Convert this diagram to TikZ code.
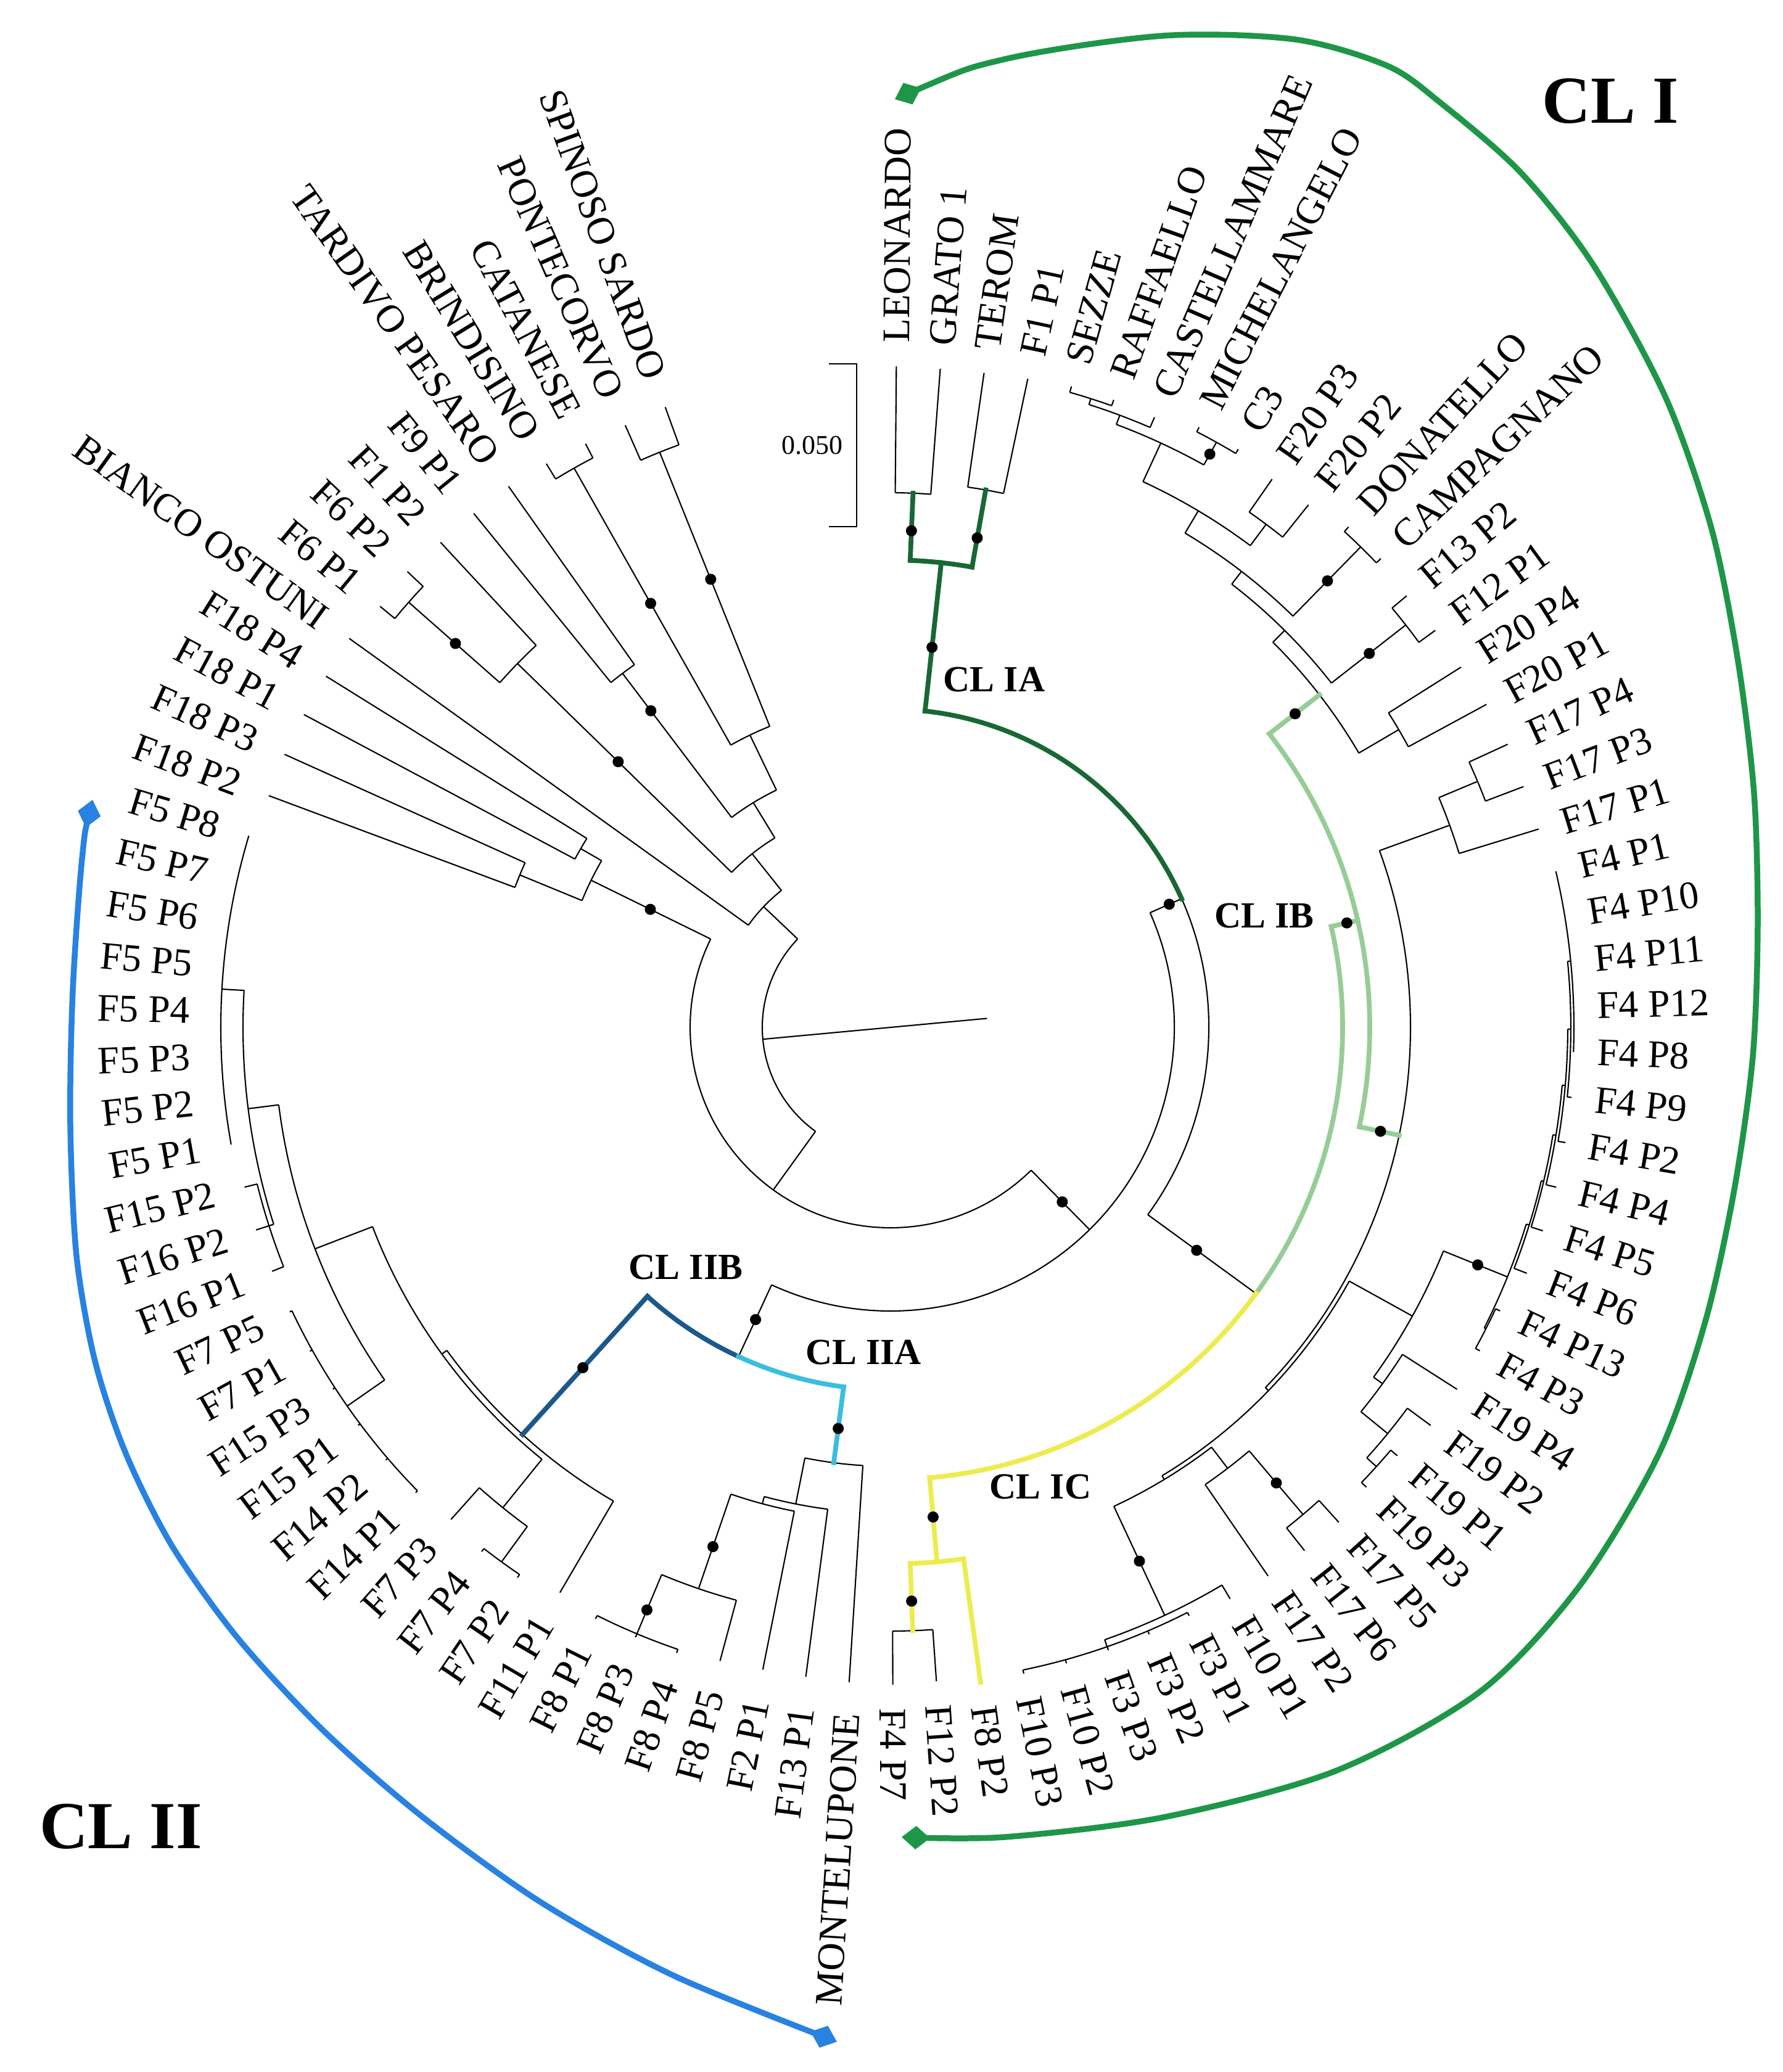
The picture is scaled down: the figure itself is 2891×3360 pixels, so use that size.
\documentclass[tikz,border=0pt]{standalone}
\usepackage{fontspec}
\setmainfont{Liberation Serif}
\usetikzlibrary{arrows.meta}

\definecolor{clagreen}{RGB}{24,104,52}
\definecolor{clbgreen}{RGB}{150,205,150}
\definecolor{clcyellow}{RGB}{236,236,80}
\definecolor{cliiblue}{RGB}{28,88,138}
\definecolor{cliicyan}{RGB}{58,190,222}
\definecolor{clIgreen}{RGB}{30,150,72}
\definecolor{clIIblue}{RGB}{40,130,225}

\newcommand{\lfa}[1]{89.5-3.815*(#1-1)}
\newcommand{\branch}[4][]{\draw[tree,#1] ({\lfa{#2}}:#3) -- ({\lfa{#2}}:#4);}
\newcommand{\fork}[4][]{\draw[tree,#1] ({\lfa{#3}}:#2) arc[start angle={\lfa{#3}}, end angle={\lfa{#4}}, radius=#2];}

\begin{document}
\begin{tikzpicture}[x=0.1mm, y=0.1mm,
	tree/.style={line width=0.6pt},
	hilite/.style={line width=2.2pt, line cap=rect},
	leaf/.style={font=\fontsize{18}{20}\selectfont, inner sep=0pt},
	cl/.style={font=\bfseries\fontsize{17}{19}\selectfont, inner sep=0pt},
	clbig/.style={font=\bfseries\fontsize{31}{34}\selectfont, inner sep=0pt},
	bracket/.style={line width=2.7pt, {Diamond[length=0.46cm,width=0.38cm]}-{Diamond[length=0.46cm,width=0.38cm]}}]
 \useasboundingbox (-1444,-1694) rectangle (1447,1666);

 \draw[tree] ({\lfa{70.25}}:208) -- ({\lfa{70.25}+180}:157);
 \foreach \rr/\ia/\ib in {208/57.44/83.06, 325/36.38/78.5, 460/18.21/54.55, 516/2.5/33.915,
		733/21.08/46.75, 758/1.5/3.5, 867/1/2, 885/3/4, 777/14.555/27.6, 880/12.61/16.5,
		907/10.72/14.5, 933/8.9375/12.5, 975/7.375/10.5, 1044/6.25/8.5, 1060/5.5/7, 1070/5/6,
		1086/8/9, 1018/10/11, 1090/12/13, 1060/14/15, 955/16/17, 843/19.25/35.96, 964/18.5/20,
		1032/18/19, 850/32.05/39.875, 967/30.234/33.875, 1079/28.969/31.5, 1084/27.9375/30,
		1088/26.875/29, 1093/25.75/28, 1098/24.5/27, 1103/23/26, 1108/21/25, 1082/31/32,
		985/33/34.75, 1041/34/35.5, 1062/35/36, 857/38.25/41.5, 900/37.5/39, 1035/37/38,
		1052/40/43, 1064/41/45, 870/46/47.5, 979/47/48, 588/50/59.09, 712/49/51, 788/50/52,
		800/51/53, 962/52/54, 1066/53/55, 890/56/62.19, 900/58.25/66.125, 1001/57.5/59,
		1072/57/58, 1000/62.5/69.75, 1074/60/65, 1050/67/72.5, 1058/66/68, 1086/69/76,
		541/77.5/79.5, 650/77/78, 580/79/80, 284/81/85.125, 360/83.25/87, 845/82.5/84,
		1042/82/83, 427/85.5/88.5, 720/85/86, 526/87.5/89.5, 1042/87/88, 1005/89/90}
	{\fork{\rr}{\ia}{\ib}}
 \foreach \ix/\ra/\rb in {57.44/208/325, 83.06/208/284, 36.38/325/460, 78.5/325/541,
		18.21/460/516, 54.55/460/588, 2.5/516/758, 33.915/516/733, 1.5/758/867, 3.5/758/885,
		21.08/733/777, 46.75/733/870, 14.555/777/880, 27.6/777/843, 12.61/880/907, 16.5/880/955,
		10.72/907/933, 14.5/907/1060, 8.9375/933/975, 12.5/933/1090, 7.375/975/1044,
		10.5/975/1018, 6.25/1044/1060, 8.5/1044/1086, 5.5/1060/1070, 19.25/843/964,
		35.96/843/850, 18.5/964/1032, 32.05/850/967, 39.875/850/857, 30.234/967/1079,
		33.875/967/985, 28.969/1079/1084, 31.5/1079/1082, 27.9375/1084/1088, 26.875/1088/1093,
		25.75/1093/1098, 24.5/1098/1103, 23/1103/1108, 34.75/985/1041, 35.5/1041/1062,
		38.25/857/900, 41.5/857/1052, 37.5/900/1035, 43/1052/1064, 47.5/870/979, 50/588/712,
		59.09/588/890, 51/712/788, 52/788/800, 53/800/962, 54/962/1066, 62.19/890/900,
		58.25/900/1001, 66.125/900/1000, 57.5/1001/1072, 62.5/1000/1074, 69.75/1000/1050,
		67/1050/1058, 72.5/1050/1086, 77.5/541/650, 79.5/541/580, 85.125/284/360,
		83.25/360/845, 87/360/427, 82.5/845/1042, 85.5/427/720, 88.5/427/526,
		87.5/526/1042, 89.5/526/1005}
	{\branch{\ix}{\ra}{\rb}}

 \foreach \ki/\pr/\tp/\lab in {1/867/1072/LEONARDO, 2/867/1071/GRATO 1, 3/885/1072/TEROM,
		4/885/1075/F1 P1, 5/1070/1080/SEZZE, 6/1070/1080/RAFFAELLO, 7/1060/1078/CASTELLAMMARE,
		8/1086/1094/MICHELANGELO, 9/1086/1094/C3, 10/1018/1083/F20 P3, 11/1018/1085/F20 P2,
		12/1090/1100/DONATELLO, 13/1090/1100/CAMPAGNANO, 14/1060/1091/F13 P2,
		15/1060/1093/F12 P1, 16/955/1094/F20 P4, 17/955/1099/F20 P1, 18/1032/1101/F17 P4,
		19/1032/1098/F17 P3, 20/964/1099/F17 P1, 21/1108/1108/F4 P1, 22/1108/1108/F4 P10,
		23/1108/1108/F4 P11, 24/1108/1108/F4 P12, 25/1108/1108/F4 P8, 26/1103/1110/F4 P9,
		27/1098/1110/F4 P2, 28/1093/1110/F4 P4, 29/1088/1108/F4 P5, 30/1084/1106/F4 P6,
		31/1082/1090/F4 P13, 32/1082/1090/F4 P3, 33/985/1090/F19 P4, 34/1041/1088/F19 P2,
		35/1062/1076/F19 P1, 36/1062/1073/F19 P3, 37/1035/1083/F17 P5, 38/1035/1082/F17 P6,
		39/900/1080/F17 P2, 40/1052/1078/F10 P1, 41/1064/1070/F3 P1, 42/1064/1070/F3 P2,
		43/1064/1070/F3 P3, 44/1064/1070/F10 P2, 45/1064/1070/F10 P3, 46/870/1072/F8 P2,
		47/979/1063/F12 P2, 48/979/1066/F4 P7, 49/712/1064/MONTELUPONE, 50/788/1062/F13 P1,
		51/800/1062/F2 P1, 52/962/1064/F8 P5, 53/1066/1072/F8 P4, 54/1066/1072/F8 P3,
		55/1066/1072/F8 P1, 56/890/1062/F11 P1, 57/1072/1078/F7 P2, 58/1072/1078/F7 P4,
		59/1001/1070/F7 P3, 60/1074/1078/F14 P1, 61/1074/1078/F14 P2, 62/1074/1078/F15 P1,
		63/1074/1078/F15 P3, 64/1074/1078/F7 P1, 65/1074/1078/F7 P5, 66/1058/1078/F16 P1,
		67/1058/1080/F16 P2, 68/1058/1079/F15 P2, 69/1086/1086/F5 P1, 70/1086/1086/F5 P2,
		71/1086/1086/F5 P3, 72/1086/1086/F5 P4, 73/1086/1086/F5 P5, 74/1086/1086/F5 P6,
		75/1086/1086/F5 P7, 76/1086/1086/F5 P8, 77/650/1076/F18 P2, 78/650/1078/F18 P3,
		79/580/1078/F18 P1, 80/580/1078/F18 P4, 81/284/1081/BIANCO OSTUNI, 82/1042/1073/F6 P1,
		83/1042/1077/F6 P2, 84/845/1073/F1 P2, 85/720/1073/F9 P1, 86/720/1074/TARDIVO PESARO,
		87/1042/1071/BRINDISINO, 88/1042/1068/CATANESE, 89/1005/1067/PONTECORVO,
		90/1005/1070/SPINOSO SARDO}{
	\draw[tree] ({\lfa{\ki}}:\pr) -- ({\lfa{\ki}}:\tp);
	\ifnum\ki<49
		\node[leaf,anchor=west,rotate={\lfa{\ki}}] (lf\ki) at ({\lfa{\ki}}:{\tp+38}) {\lab};
	\else
		\node[leaf,anchor=east,rotate={\lfa{\ki}+180}] (lf\ki) at ({\lfa{\ki}}:{\tp+50}) {\lab};
	\fi
 }

 \fork[hilite,clagreen]{516}{18.21}{2.5}
 \branch[hilite,clagreen]{2.5}{516}{758}
 \fork[hilite,clagreen]{758}{1.5}{3.5}
 \branch[hilite,clagreen]{1.5}{758}{867}
 \branch[hilite,clagreen]{3.5}{758}{885}
 \fork[hilite,clbgreen]{733}{33.915}{21.08}
 \branch[hilite,clbgreen]{21.08}{733}{777}
 \fork[hilite,clbgreen]{777}{14.555}{27.6}
 \branch[hilite,clbgreen]{14.555}{777}{880}
 \branch[hilite,clbgreen]{27.6}{777}{843}
 \fork[hilite,clcyellow]{733}{33.915}{46.75}
 \branch[hilite,clcyellow]{46.75}{733}{870}
 \fork[hilite,clcyellow]{870}{46}{47.5}
 \branch[hilite,clcyellow]{47.5}{870}{979}
 \branch[hilite,clcyellow]{46}{870}{1072}
 \fork[hilite,cliiblue]{588}{54.55}{59.09}
 \branch[hilite,cliiblue]{59.09}{588}{890}
 \fork[hilite,cliicyan]{588}{54.55}{50}
 \branch[hilite,cliicyan]{50}{588}{712}

 \foreach \ix/\rr in {1.5/806, 3.5/806, 2.5/620, 18.21/494, 33.915/614, 46.75/797, 47.5/931,
		21.08/759, 14.555/830, 27.6/812, 8.5/1064, 12.5/1013, 14.5/985, 30.234/1027, 37.5/968,
		41.5/955, 36.38/397, 54.55/522, 59.09/744, 50/656, 53/890, 54/1024, 78.5/434,
		89.5/783, 87.5/790, 85.5/644, 83.25/617, 82.5/941}
	{\fill ({\lfa{\ix}}:\rr) circle (9);}

 \coordinate (sbtop) at (-55,1076);
 \coordinate (sbbot) at (-55,812);
 \draw[tree] ([xshift=-0.45cm]sbtop) -- (sbtop) -- (sbbot) -- ([xshift=-0.45cm]sbbot);
 \node[leaf,font=\fontsize{12.5}{14}\selectfont] (sblab) at (-127,944) {0.050};

 \node[cl] (clIA) at (168,564) {CL IA};
 \node[cl] (clIB) at (606,181) {CL IB};
 \node[cl] (clIC) at (243,-745) {CL IC};
 \node[cl] (clIIA) at (-44,-527) {CL IIA};
 \node[cl] (clIIB) at (-332,-389) {CL IIB};
 \node[clbig] (clI) at (1167,1502) {CL I};
 \node[clbig] (clII) at (-1248,-1296) {CL II};

 \draw[bracket,clIgreen] plot[smooth,tension=0.5] coordinates {(7,1505) (185,1570) (442,1608)
	(656,1602) (806,1559) (892,1499) (1021,1387) (1139,1237) (1256,1023) (1331,809) (1374,594)
	(1400,380) (1406,166) (1398,-48) (1368,-263) (1321,-477) (1246,-691) (1117,-906)
	(956,-1077) (721,-1206) (442,-1281) (185,-1313) (18,-1313)};
 \draw[bracket,clIIblue] plot[smooth,tension=0.5] coordinates {(-1294,369) (-1311,273)
	(-1326,59) (-1330,-156) (-1320,-370) (-1290,-541) (-1240,-691) (-1165,-841) (-1058,-991)
	(-919,-1141) (-758,-1281) (-565,-1420) (-351,-1538) (-87,-1645)};
\end{tikzpicture}
\end{document}
